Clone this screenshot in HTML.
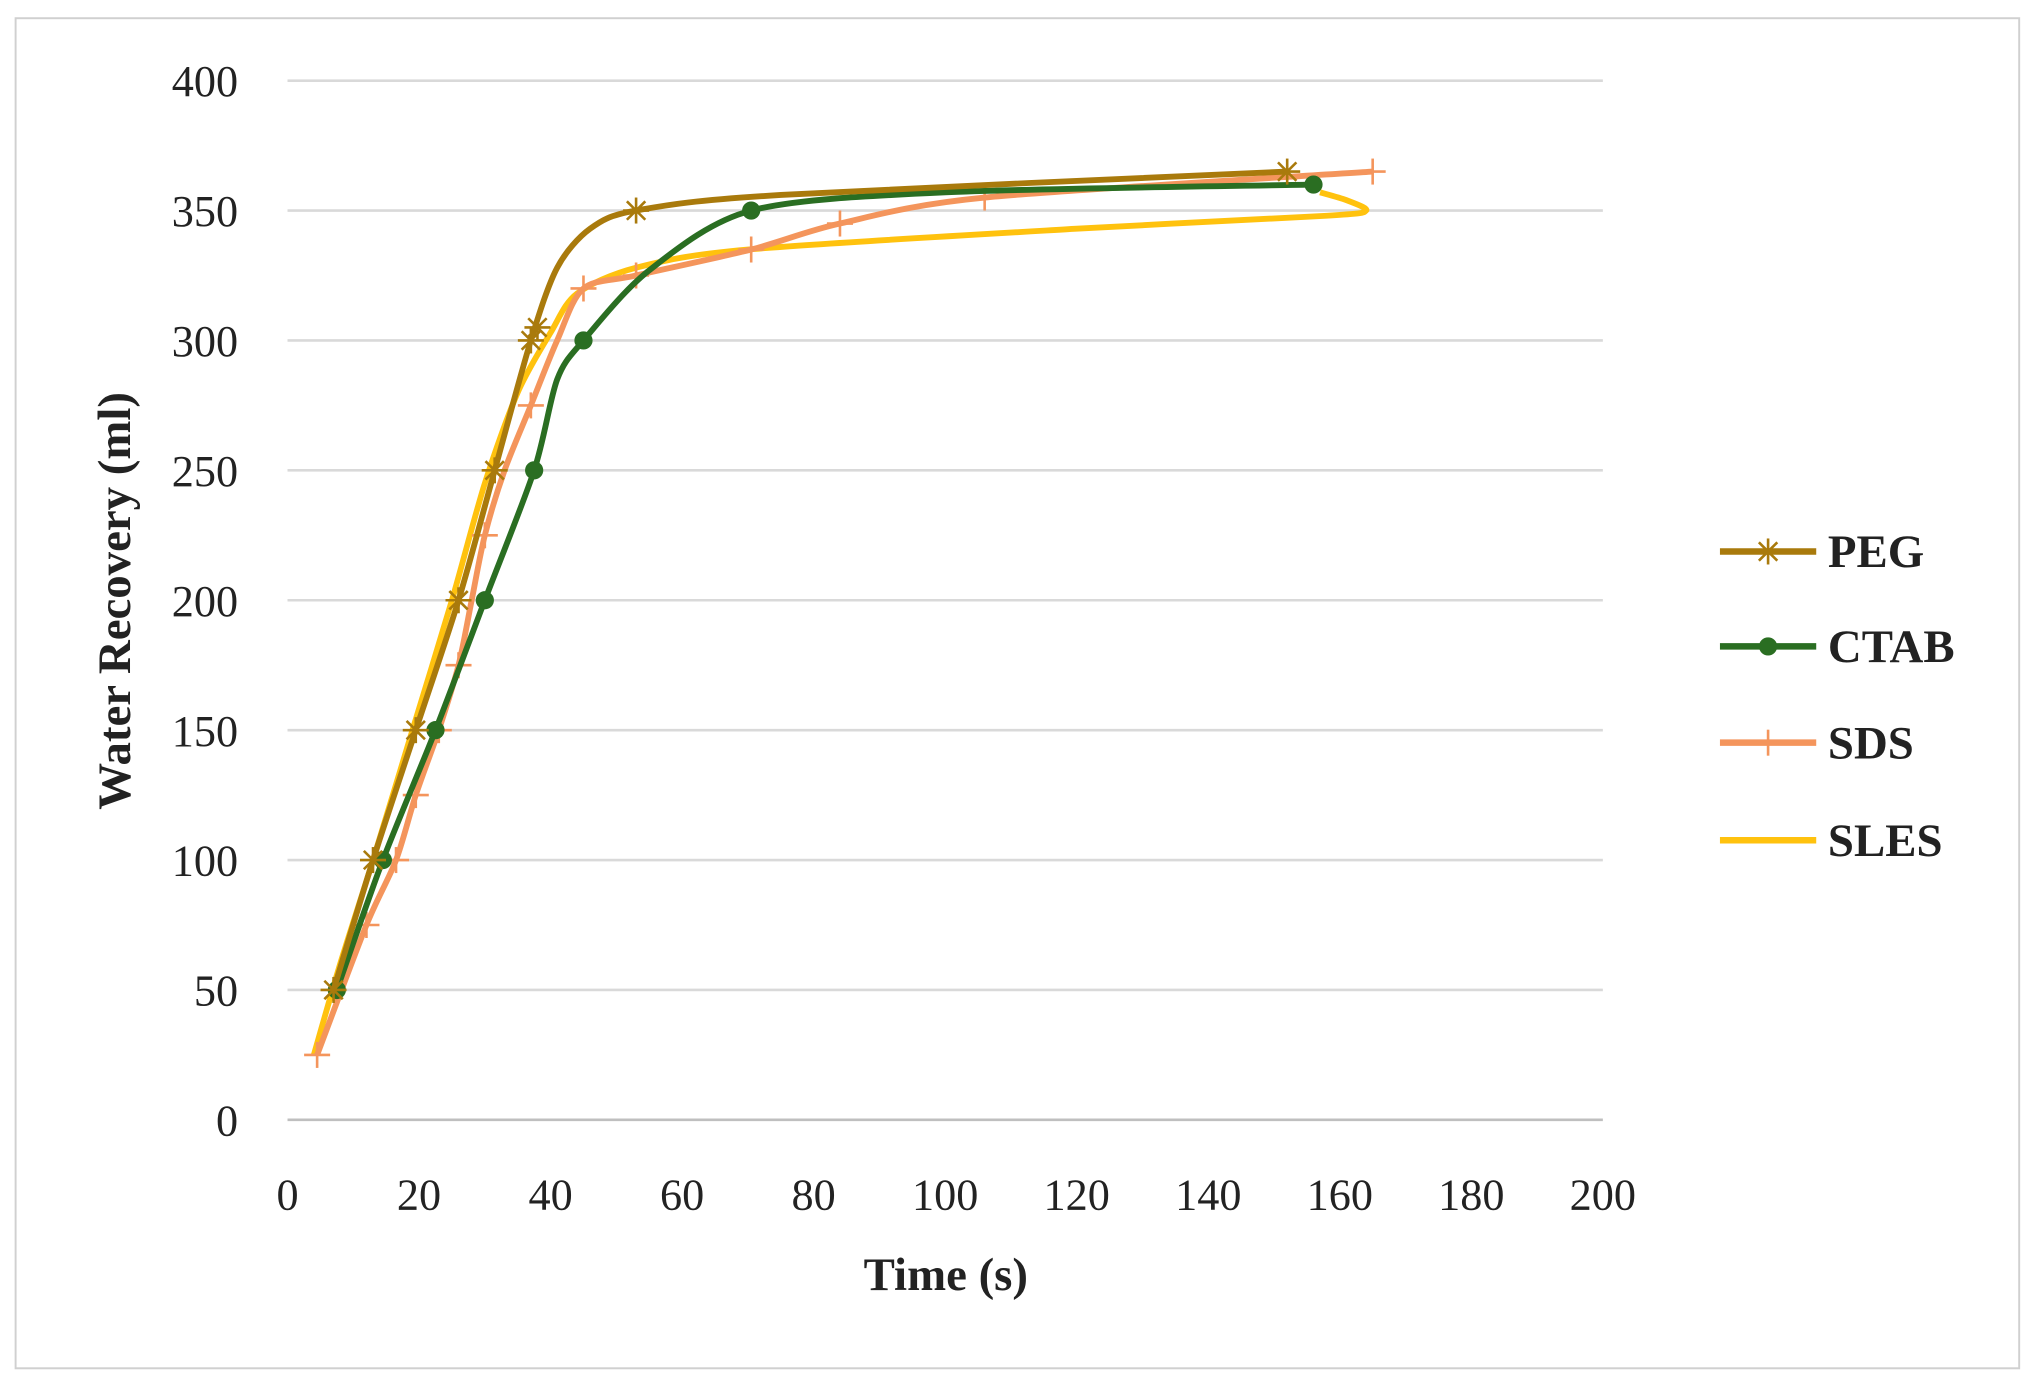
<!DOCTYPE html>
<html><head><meta charset="utf-8"><style>
html,body{margin:0;padding:0;background:#fff;}
svg{display:block;}
text{font-family:"Liberation Serif",serif;}
</style></head><body>
<svg id="s" width="2040" height="1393" viewBox="0 0 1568 1071" preserveAspectRatio="none" xmlns="http://www.w3.org/2000/svg">
<rect x="12" y="14" width="1540" height="1038" fill="#fff" stroke="#d0d0d0" stroke-width="1.5"/>
<g id="grid" stroke="#d9d9d9" stroke-width="2"></g>
<g id="yl" font-size="34" fill="#222" text-anchor="end"></g>
<g id="xl" font-size="34" fill="#222" text-anchor="middle"></g>
<text x="727" y="992" font-size="36" font-weight="bold" text-anchor="middle" fill="#222">Time (s)</text>
<text transform="translate(100,462) rotate(-90)" font-size="36" font-weight="bold" text-anchor="middle" fill="#222">Water Recovery (ml)</text>
<g id="series"></g>
<g font-size="36" font-weight="bold" fill="#222">
<line x1="1322" y1="424" x2="1396" y2="424" stroke="#a97a0c" stroke-width="5"/>
<text x="1405" y="436">PEG</text>
<line x1="1322" y1="497" x2="1396" y2="497" stroke="#2a6e22" stroke-width="5"/>
<circle cx="1359" cy="497" r="7" fill="#2a6e22"/>
<text x="1405" y="509">CTAB</text>
<line x1="1322" y1="571" x2="1396" y2="571" stroke="#f4955c" stroke-width="5"/>
<text x="1405" y="583">SDS</text>
<line x1="1322" y1="646" x2="1396" y2="646" stroke="#ffc20e" stroke-width="5"/>
<text x="1405" y="658">SLES</text>
</g>
</svg>
<script>
const NS="http://www.w3.org/2000/svg";
const X=v=>221+v*5.055, Y=v=>861-v*1.9975;
function el(t,a,p){const e=document.createElementNS(NS,t);for(const k in a)e.setAttribute(k,a[k]);document.getElementById(p).appendChild(e);return e;}
for(let v=0;v<=400;v+=50){el('line',{x1:221,x2:1232,y1:Y(v),y2:Y(v),stroke:v==0?'#bfbfbf':'#d9d9d9'},'grid');
 el('text',{x:183,y:Y(v)+12},'yl').textContent=v;}
for(let v=0;v<=200;v+=20){el('text',{x:X(v),y:930},'xl').textContent=v;}
function path(pts){pts=pts.map(p=>[X(p[0]),Y(p[1])]);let d="M"+pts[0];
 for(let i=0;i<pts.length-1;i++){const p0=pts[i-1]||pts[i],p1=pts[i],p2=pts[i+1],p3=pts[i+2]||p2;
  const k=7;
  const c1=[p1[0]+(p2[0]-p0[0])/k,p1[1]+(p2[1]-p0[1])/k],c2=[p2[0]-(p3[0]-p1[0])/k,p2[1]-(p3[1]-p1[1])/k];
  d+=" C"+c1+" "+c2+" "+p2;}return d;}
function star(x,y,c){for(let a=0;a<180;a+=45){const r=10,t=a*Math.PI/180;el('line',{x1:x-r*Math.cos(t),y1:y-r*Math.sin(t),x2:x+r*Math.cos(t),y2:y+r*Math.sin(t),stroke:c,'stroke-width':2},'series');}}
function plus(x,y,c){el('line',{x1:x-10,x2:x+10,y1:y,y2:y,stroke:c,'stroke-width':2},'series');el('line',{x1:x,x2:x,y1:y-10,y2:y+10,stroke:c,'stroke-width':2},'series');}
const S=[
 {c:'#ffc20e',p:[[4,25],[8,60],[13,100],[19,150],[25,200],[30,245],[35,280],[40,303],[44,318],[53,328],[70,335],[120,343],[158,348],[164,350],[161,354],[157,357]],m:null},
 {c:'#f4955c',p:[[4.5,25],[12,75],[16.5,100],[19.5,125],[23,150],[26,175],[28,200],[30,225],[33,250],[37,275],[41,300],[45,320],[53,325],[70.5,335],[84,345],[106,355],[165,365]],mk:[[4.5,25],[12,75],[16.5,100],[19.5,125],[23,150],[26,175],[30,225],[37,275],[45,320],[53,325],[70.5,335],[84,345],[106,355],[165,365]],m:plus},
 {c:'#2a6e22',p:[[7.5,50],[14.5,100],[22.5,150],[30,200],[37.5,250],[41,285],[45,300],[55,327],[70.5,350],[100,357],[156,360]],mk:[[7.5,50],[14.5,100],[22.5,150],[30,200],[37.5,250],[45,300],[70.5,350],[156,360]],m:'dot'},
 {c:'#a97a0c',p:[[7,50],[13,100],[19.5,150],[26,200],[31.5,250],[37,300],[41,328],[46,343],[53,350],[75,356],[152,365]],mk:[[7,50],[13,100],[19.5,150],[26,200],[31.5,250],[37,300],[38,305],[53,350],[152,365]],m:star}
];
for(const s of S){el('path',{d:path(s.p),fill:'none',stroke:s.c,'stroke-width':4.5,'stroke-linejoin':'round'},'series');
 if(!s.m)continue;
 for(const p of s.mk){if(s.m=='dot')el('circle',{cx:X(p[0]),cy:Y(p[1]),r:7,fill:s.c},'series');else s.m(X(p[0]),Y(p[1]),s.c);}}
star(1359,424,'#a97a0c');plus(1359,571,'#f4955c');
</script>
</body></html>
